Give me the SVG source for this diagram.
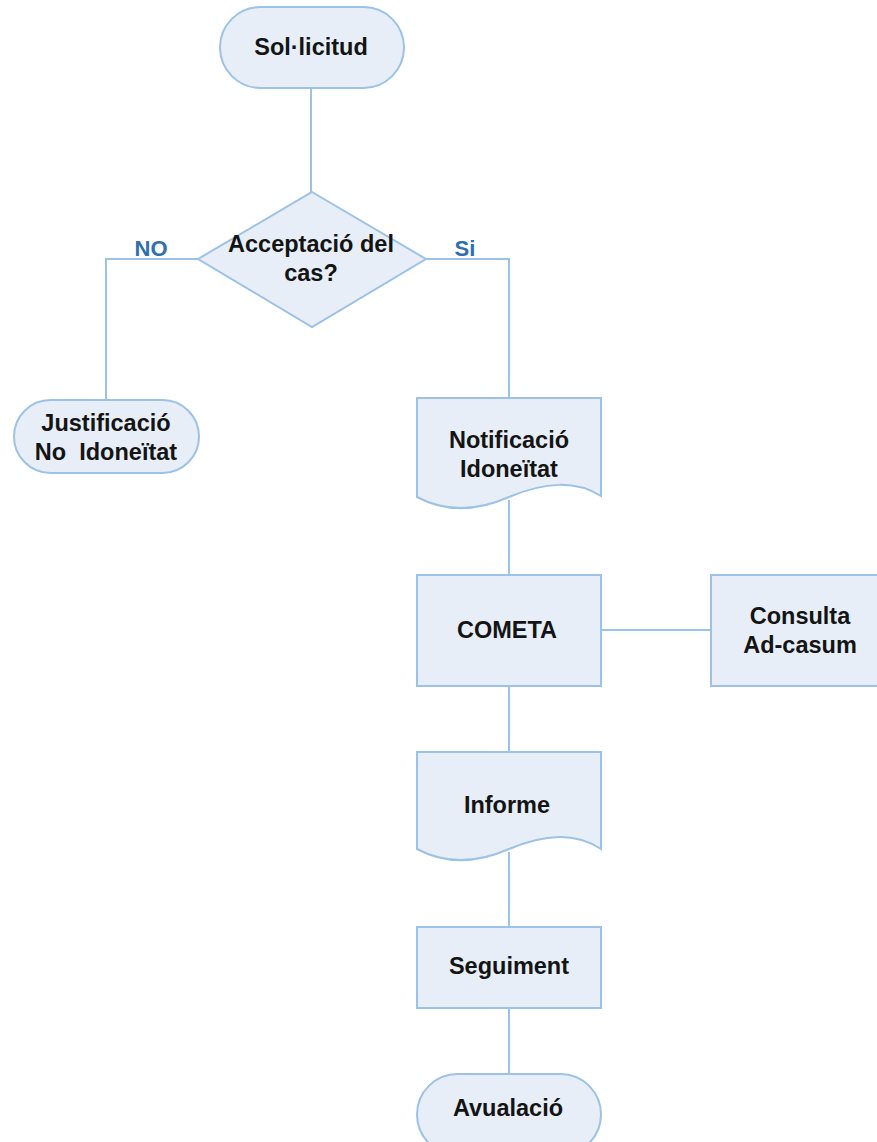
<svg xmlns="http://www.w3.org/2000/svg" width="877" height="1142" viewBox="0 0 877 1142">
<style>
.shape{fill:#e7eef8;stroke:#9cc2e5;stroke-width:2}
.conn{fill:none;stroke:#9cc2e5;stroke-width:2}
.t{font-family:"Liberation Sans",Arial,sans-serif;font-weight:bold;font-size:23.5px;fill:#141414;text-anchor:middle}
.lbl{font-family:"Liberation Sans",Arial,sans-serif;font-weight:bold;font-size:22px;fill:#2f6fad;text-anchor:middle}
</style>
<rect width="877" height="1142" fill="#ffffff"/>
<g id="connectors">
<line class="conn" x1="311" y1="88" x2="311" y2="192"/>
<polyline class="conn" points="198,259 106,259 106,400"/>
<polyline class="conn" points="426,259 509,259 509,398"/>
<line class="conn" x1="509" y1="500" x2="509" y2="575"/>
<line class="conn" x1="601" y1="630" x2="711" y2="630"/>
<line class="conn" x1="509" y1="686" x2="509" y2="752"/>
<line class="conn" x1="509" y1="852" x2="509" y2="927"/>
<line class="conn" x1="509" y1="1008" x2="509" y2="1074"/>
<text class="lbl" x="151" y="256">NO</text>
<text class="lbl" x="465" y="256">Si</text>
</g>
<g id="sollicitud">
<rect class="shape" x="220" y="7" width="184" height="81" rx="40.5"/>
<text class="t" x="311" y="55">Sol·licitud</text>
</g>
<g id="acceptacio">
<polygon class="shape" points="312,192 426,259 312,327 198,259"/>
<text class="t" x="311" y="252">Acceptació del</text>
<text class="t" x="311" y="281">cas?</text>
</g>
<g id="justificacio">
<rect class="shape" x="14" y="400" width="185" height="73" rx="36.5"/>
<text class="t" x="106" y="431">Justificació</text>
<text class="t" x="106" y="460" xml:space="preserve">No  Idoneïtat</text>
</g>
<g id="notificacio">
<path class="shape" d="M417,398 H601 V496 C575,480 545,482 509,497 C475,512 445,512 417,497 Z"/>
<text class="t" x="509" y="448">Notificació</text>
<text class="t" x="509" y="477">Idoneïtat</text>
</g>
<g id="cometa">
<rect class="shape" x="417" y="575" width="184" height="111"/>
<text class="t" x="507" y="638">COMETA</text>
</g>
<g id="consulta">
<rect class="shape" x="711" y="575" width="180" height="111"/>
<text class="t" x="800" y="624">Consulta</text>
<text class="t" x="800" y="653">Ad-casum</text>
</g>
<g id="informe">
<path class="shape" d="M417,752 H601 V849 C575,832 545,834 509,849 C475,864 445,864 417,849 Z"/>
<text class="t" x="507" y="813">Informe</text>
</g>
<g id="seguiment">
<rect class="shape" x="417" y="927" width="184" height="81"/>
<text class="t" x="509" y="974">Seguiment</text>
</g>
<g id="avualacio">
<rect class="shape" x="417" y="1074" width="184" height="81" rx="40.5"/>
<text class="t" x="508" y="1116">Avualació</text>
</g>
</svg>
